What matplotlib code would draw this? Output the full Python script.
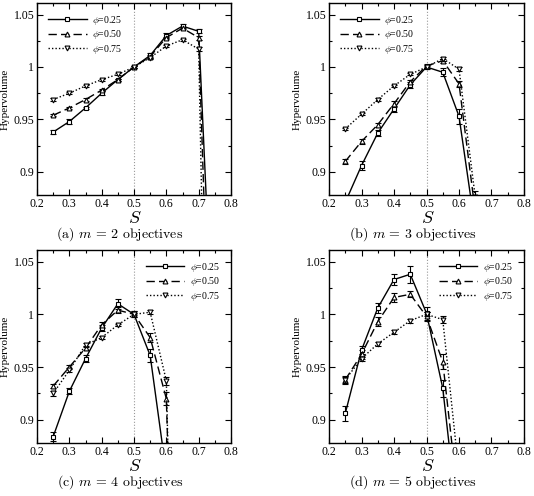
"""
Hypervolume vs S for different phi, m = 2..5 objectives
"""
import matplotlib
matplotlib.use('Agg')
import matplotlib.pyplot as plt
from matplotlib.lines import Line2D
from matplotlib.ticker import MultipleLocator

plt.rcParams['font.family'] = ['Liberation Serif', 'DejaVu Serif']
plt.rcParams['mathtext.fontset'] = 'cm'

# S values for each panel
s_a = [0.25, 0.30, 0.35, 0.40, 0.45, 0.50, 0.55, 0.60, 0.65, 0.70, 0.75]
s_b = [0.25, 0.30, 0.35, 0.40, 0.45, 0.50, 0.55, 0.60, 0.65]
s_c = [0.25, 0.30, 0.35, 0.40, 0.45, 0.50, 0.55, 0.60, 0.65]
s_d = [0.25, 0.30, 0.35, 0.40, 0.45, 0.50, 0.55, 0.60]

# (a) m = 2
hv_a_25 = [0.938, 0.948, 0.961, 0.975, 0.988, 1.000, 1.011, 1.030, 1.039, 1.034, 0.695]
hv_a_50 = [0.954, 0.961, 0.969, 0.978, 0.988, 1.000, 1.010, 1.028, 1.037, 1.028, 0.560]
hv_a_75 = [0.969, 0.975, 0.982, 0.988, 0.993, 1.000, 1.009, 1.020, 1.026, 1.017, 0.250]
err_a_25 = [0.002, 0.002, 0.001, 0.002, 0.001, 0.001, 0.002, 0.002, 0.002, 0.002, 0.010]
err_a_50 = [0.001, 0.001, 0.001, 0.001, 0.001, 0.001, 0.001, 0.001, 0.001, 0.002, 0.010]
err_a_75 = [0.001, 0.001, 0.001, 0.001, 0.001, 0.001, 0.001, 0.001, 0.001, 0.002, 0.010]

# (b) m = 3
hv_b_25 = [0.871, 0.906, 0.937, 0.960, 0.983, 1.000, 0.995, 0.953, 0.846]
hv_b_50 = [0.910, 0.929, 0.945, 0.965, 0.986, 1.001, 1.006, 0.984, 0.862]
hv_b_75 = [0.941, 0.955, 0.969, 0.982, 0.993, 1.000, 1.008, 0.998, 0.876]
err_b_25 = [0.003, 0.004, 0.003, 0.003, 0.003, 0.002, 0.004, 0.007, 0.005]
err_b_50 = [0.002, 0.002, 0.002, 0.003, 0.002, 0.002, 0.002, 0.003, 0.005]
err_b_75 = [0.001, 0.001, 0.001, 0.001, 0.001, 0.001, 0.002, 0.002, 0.006]

# (c) m = 4
hv_c_25 = [0.884, 0.927, 0.958, 0.987, 1.010, 1.000, 0.961, 0.849, 0.500]
hv_c_50 = [0.932, 0.950, 0.968, 0.990, 1.004, 1.000, 0.978, 0.920, 0.400]
hv_c_75 = [0.925, 0.947, 0.971, 0.978, 0.990, 1.000, 1.002, 0.937, 0.300]
err_c_25 = [0.004, 0.003, 0.003, 0.003, 0.005, 0.003, 0.006, 0.006, 0.010]
err_c_50 = [0.002, 0.002, 0.002, 0.003, 0.003, 0.003, 0.004, 0.006, 0.010]
err_c_75 = [0.002, 0.002, 0.002, 0.001, 0.001, 0.001, 0.002, 0.004, 0.010]

# (d) m = 5
hv_d_25 = [0.906, 0.966, 1.006, 1.033, 1.038, 1.001, 0.930, 0.793]
hv_d_50 = [0.938, 0.962, 0.993, 1.016, 1.019, 0.998, 0.955, 0.817]
hv_d_75 = [0.938, 0.958, 0.972, 0.983, 0.994, 1.000, 0.995, 0.849]
err_d_25 = [0.007, 0.004, 0.005, 0.005, 0.008, 0.006, 0.008, 0.008]
err_d_50 = [0.004, 0.004, 0.004, 0.004, 0.003, 0.004, 0.007, 0.008]
err_d_75 = [0.003, 0.002, 0.002, 0.002, 0.002, 0.002, 0.003, 0.008]

phi_labels = [r'$\phi$=0.25', r'$\phi$=0.50', r'$\phi$=0.75']
captions = [r'(a) $m$ = 2 objectives', r'(b) $m$ = 3 objectives',
            r'(c) $m$ = 4 objectives', r'(d) $m$ = 5 objectives']

panels = [
    (s_a, [hv_a_25, hv_a_50, hv_a_75], [err_a_25, err_a_50, err_a_75], 'upper left'),
    (s_b, [hv_b_25, hv_b_50, hv_b_75], [err_b_25, err_b_50, err_b_75], 'upper left'),
    (s_c, [hv_c_25, hv_c_50, hv_c_75], [err_c_25, err_c_50, err_c_75], 'upper right'),
    (s_d, [hv_d_25, hv_d_50, hv_d_75], [err_d_25, err_d_50, err_d_75], 'upper right'),
]

W, H = 534, 496
fig = plt.figure(figsize=(W / 100, H / 100), dpi=100)

# axes boxes in pixels: left, top, right, bottom
boxes = [(37, 3, 231, 195), (329, 3, 524, 195),
         (37, 250, 231, 443), (329, 250, 524, 443)]

styles = [('-', 's', None), ('--', '^', (6, 3)), (':', 'v', (1, 1.5))]

for i, (s_vals, series, errs, loc) in enumerate(panels):
    l, t, r, b = boxes[i]
    ax = fig.add_axes([l / W, 1 - b / H, (r - l) / W, (b - t) / H])
    ax.axvline(0.5, color='#999999', lw=0.8, ls=':', zorder=0)
    handles = []
    for k in range(3):
        ls, mk, dash = styles[k]
        line = ax.errorbar(s_vals, series[k], yerr=errs[k], color='black',
                           lw=1.0, ls=ls, marker=mk, ms=3.5, mfc='white',
                           mec='black', mew=0.8, capsize=2, elinewidth=0.8,
                           capthick=0.8)
        h = Line2D([], [], color='black', lw=1.0, ls=ls, marker=mk, ms=3.5,
                   mfc='white', mec='black', mew=0.8)
        if dash is not None:
            line[0].set_dashes(dash)
            h.set_dashes(dash)
        handles.append(h)
    ax.set_xlim(0.2, 0.8)
    ax.set_ylim(0.878, 1.061)
    ax.xaxis.set_minor_locator(MultipleLocator(0.05))
    ax.yaxis.set_minor_locator(MultipleLocator(0.025))
    ax.set_xticks([0.2, 0.3, 0.4, 0.5, 0.6, 0.7, 0.8])
    ax.set_xticklabels(['0.2', '0.3', '0.4', '0.5', '0.6', '0.7', '0.8'])
    ax.set_yticks([0.9, 0.95, 1.0, 1.05])
    ax.set_yticklabels(['0.9', '0.95', '1', '1.05'])
    ax.tick_params(which='both', direction='in', top=True, right=True,
                   labelsize=8.5, pad=2)
    ax.tick_params(which='major', length=4, width=0.8)
    ax.tick_params(which='minor', length=2, width=0.8)
    for sp in ax.spines.values():
        sp.set_linewidth(1.0)
    ax.set_ylabel('Hypervolume', fontsize=8, labelpad=3)
    ax.set_xlabel('S', family='cmmi10', fontsize=13, labelpad=0)
    ax.legend(handles, phi_labels, loc=loc, frameon=False, fontsize=7,
              handlelength=4, numpoints=1, handletextpad=0.6,
              labelspacing=0.15, borderaxespad=0.7)
    fig.text((l + r) / 2 / W - 14 / W, 1 - (b + 39) / H, captions[i],
             ha='center', va='center', fontsize=10, family='cmr10')

fig.savefig('out.png', dpi=100)
